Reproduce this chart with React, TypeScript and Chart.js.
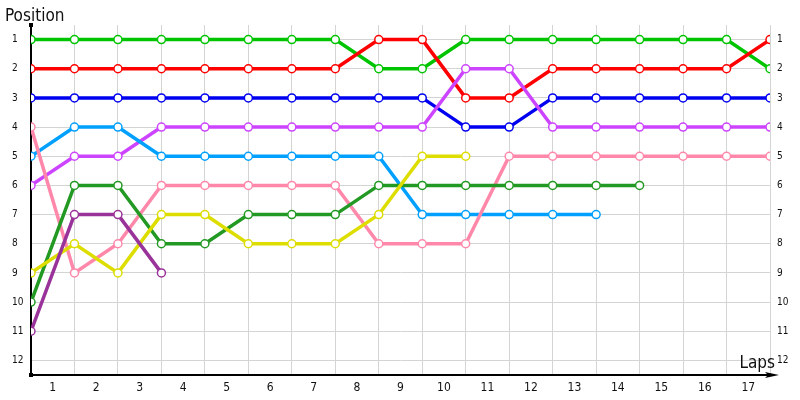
import React, { useEffect, useRef } from 'react';
import { Chart, registerables, Plugin } from 'chart.js';

Chart.register(...registerables);

// lap labels shown between the vertical grid lines
const lapLabels = ['1', '2', '3', '4', '5', '6', '7', '8', '9', '10', '11', '12', '13', '14', '15', '16', '17'];
const positionTicks = [1, 2, 3, 4, 5, 6, 7, 8, 9, 10, 11, 12];

// position after each lap (index 0 = start grid)
const greenPos = [1, 1, 1, 1, 1, 1, 1, 1, 2, 2, 1, 1, 1, 1, 1, 1, 1, 2];
const redPos = [2, 2, 2, 2, 2, 2, 2, 2, 1, 1, 3, 3, 2, 2, 2, 2, 2, 1];
const bluePos = [3, 3, 3, 3, 3, 3, 3, 3, 3, 3, 4, 4, 3, 3, 3, 3, 3, 3];
const violetPos = [6, 5, 5, 4, 4, 4, 4, 4, 4, 4, 2, 2, 4, 4, 4, 4, 4, 4];
const skyPos = [5, 4, 4, 5, 5, 5, 5, 5, 5, 7, 7, 7, 7, 7];
const pinkPos = [4, 9, 8, 6, 6, 6, 6, 6, 8, 8, 8, 5, 5, 5, 5, 5, 5, 5];
const darkGreenPos = [10, 6, 6, 8, 8, 7, 7, 7, 6, 6, 6, 6, 6, 6, 6];
const yellowPos = [9, 8, 9, 7, 7, 8, 8, 8, 7, 5, 5];
const plumPos = [11, 7, 7, 9];

const seriesList = [
    { name: 'Green', color: '#00c400', data: greenPos },
    { name: 'Red', color: '#ff0000', data: redPos },
    { name: 'Blue', color: '#0000f0', data: bluePos },
    { name: 'Violet', color: '#cc44ff', data: violetPos },
    { name: 'Sky', color: '#00a0ff', data: skyPos },
    { name: 'Pink', color: '#ff88aa', data: pinkPos },
    { name: 'Dark green', color: '#229922', data: darkGreenPos },
    { name: 'Yellow', color: '#dddd00', data: yellowPos },
    { name: 'Plum', color: '#993399', data: plumPos },
];

const FONT = 'Tahoma, "DejaVu Sans Condensed", "DejaVu Sans", sans-serif';

// axes with arrow + captions, drawn under the lines
const axisDecor: Plugin = {
    id: 'axisDecor',
    beforeDatasetsDraw(chart) {
        const { ctx, chartArea } = chart;
        const { left, right, top, bottom } = chartArea;
        ctx.save();
        ctx.strokeStyle = '#000';
        ctx.fillStyle = '#000';
        ctx.lineWidth = 2;
        ctx.beginPath();
        ctx.moveTo(left, top);
        ctx.lineTo(left, bottom);
        ctx.lineTo(right + 4, bottom);
        ctx.stroke();
        // arrow head
        ctx.beginPath();
        ctx.moveTo(right + 9, bottom);
        ctx.lineTo(right - 5, bottom - 3);
        ctx.lineTo(right - 2, bottom);
        ctx.lineTo(right - 5, bottom + 3);
        ctx.closePath();
        ctx.fill();
        // dots
        ctx.fillRect(left - 2, top - 2, 4, 4);
        ctx.fillRect(left - 2, bottom - 2, 4, 4);

        ctx.fillStyle = '#111';
        ctx.font = '17px ' + FONT;
        ctx.textBaseline = 'alphabetic';
        ctx.textAlign = 'left';
        ctx.fillText('Position', 5, 21);
        ctx.textAlign = 'right';
        ctx.fillText('Laps', right + 5, bottom - 7);
        ctx.restore();
    },
};

const xTickValues: number[] = [];
for (let i = 0; i <= lapLabels.length; i++) {
    xTickValues.push(i);
    if (i < lapLabels.length) xTickValues.push(i + 0.5);
}

const App: React.FC = () => {
    const chartRef = useRef<HTMLCanvasElement | null>(null);
    const chartInstanceRef = useRef<Chart | null>(null);

    useEffect(() => {
        document.body.style.margin = '0';
        if (!chartRef.current) return;
        const ctx = chartRef.current.getContext('2d');
        if (!ctx) return;
        if (chartInstanceRef.current) chartInstanceRef.current.destroy();

        const yScale = (position: 'left' | 'right') => ({
            type: 'linear' as const,
            position,
            reverse: true,
            min: 0.5,
            max: 12.5,
            afterBuildTicks: (s: any) => {
                s.ticks = positionTicks.map((v) => ({ value: v }));
            },
            afterFit: (s: any) => {
                s.width = position === 'left' ? 19 : 30;
            },
            border: { display: false },
            grid: position === 'left'
                ? { color: '#d4d4d4', lineWidth: 1, drawTicks: false }
                : { display: false, drawTicks: false },
            ticks: {
                crossAlign: position === 'left' ? ('far' as const) : ('near' as const),
                padding: position === 'left' ? 0 : 7,
                color: '#111',
                font: { family: FONT, size: 10 },
            },
        });

        chartInstanceRef.current = new Chart(ctx, {
            type: 'line',
            data: {
                datasets: seriesList.map((s, i) => ({
                    label: s.name,
                    data: s.data.map((p, lap) => ({ x: lap, y: p })),
                    // later series sit on top
                    order: seriesList.length - i,
                    borderColor: s.color,
                    backgroundColor: s.color,
                    borderWidth: 3.5,
                    pointRadius: 4,
                    pointBorderWidth: 1.5,
                    pointBorderColor: s.color,
                    pointBackgroundColor: '#ffffff',
                    tension: 0,
                    fill: false,
                    yAxisID: 'y',
                })),
            },
            options: {
                responsive: true,
                maintainAspectRatio: false,
                animation: false,
                layout: { padding: { left: 12, top: 25, right: 0, bottom: 0 } },
                plugins: {
                    legend: { display: false },
                    tooltip: { enabled: false },
                    title: { display: false },
                },
                scales: {
                    x: {
                        type: 'linear',
                        min: 0,
                        max: lapLabels.length,
                        afterBuildTicks: (s: any) => {
                            s.ticks = xTickValues.map((v) => ({ value: v }));
                        },
                        afterFit: (s: any) => {
                            s.height = 25;
                        },
                        border: { display: false },
                        grid: {
                            color: (c: any) =>
                                c.tick && Number.isInteger(c.tick.value) ? '#d4d4d4' : 'rgba(0,0,0,0)',
                            lineWidth: 1,
                            drawTicks: false,
                        },
                        ticks: {
                            autoSkip: false,
                            maxRotation: 0,
                            padding: 6,
                            color: '#111',
                            font: { family: FONT, size: 12 },
                            callback: (v: any) =>
                                Number.isInteger(v) ? '' : lapLabels[Math.floor(v)],
                        },
                    },
                    y: yScale('left'),
                    y2: yScale('right'),
                },
            },
            plugins: [axisDecor],
        });

        return () => {
            if (chartInstanceRef.current) {
                chartInstanceRef.current.destroy();
                chartInstanceRef.current = null;
            }
        };
    }, []);

    return (
        <div style={{ position: 'relative', width: 800, height: 400 }}>
            <canvas ref={chartRef}></canvas>
        </div>
    );
};

export default App;
